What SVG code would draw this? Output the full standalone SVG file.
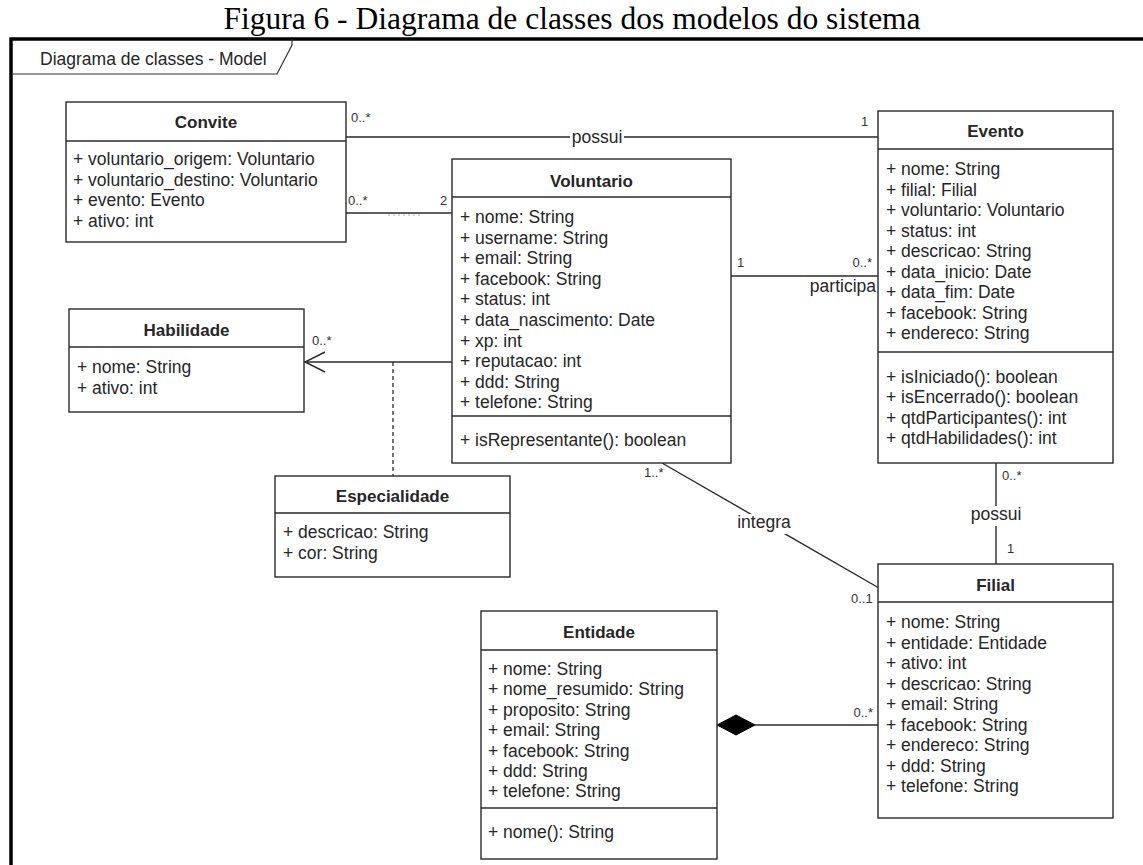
<svg xmlns="http://www.w3.org/2000/svg" width="1143" height="865" viewBox="0 0 1143 865">
  <style>
    .box { fill: #ffffff; stroke: #2a2a2a; stroke-width: 1.4; }
    .div { stroke: #2a2a2a; stroke-width: 1.4; }
    .t { font-family: "Liberation Sans", Arial, sans-serif; font-size: 17.5px; fill: #262626; }
    .h { font-family: "Liberation Sans", Arial, sans-serif; font-size: 17px; font-weight: bold; fill: #262626; text-anchor: middle; }
    .m { font-family: "Liberation Sans", Arial, sans-serif; font-size: 13px; fill: #333333; }
    .lbl { font-family: "Liberation Sans", Arial, sans-serif; font-size: 17.5px; fill: #262626; }
    .ln { stroke: #2a2a2a; stroke-width: 1.4; fill: none; }
  </style>

  <!-- figure caption -->
  <text x="572" y="29" text-anchor="middle" font-family="'Liberation Serif', 'Times New Roman', serif" font-size="31.5" fill="#000000">Figura 6 - Diagrama de classes dos modelos do sistema</text>

  <!-- UML frame -->
  <g id="frame">
    <path d="M11,880 L11,39 L1150,39" fill="none" stroke="#000000" stroke-width="3.5"/>
    <path d="M12,74 L277,74 L292,45 L292,39" fill="none" stroke="#333333" stroke-width="1.2"/>
    <text x="40" y="65" class="t" fill="#333333">Diagrama de classes - Model</text>
  </g>

  <!-- connectors -->
  <g id="connectors">
    <!-- Convite - Evento : possui -->
    <line class="ln" x1="346" y1="137" x2="878" y2="137"/>
    <rect x="570" y="128" width="54" height="20" fill="#ffffff"/>
    <text x="597" y="143" class="lbl" text-anchor="middle">possui</text>
    <text x="351" y="122" class="m">0..*</text>
    <text x="861" y="126" class="m">1</text>

    <!-- Convite - Voluntario -->
    <line class="ln" x1="346" y1="213" x2="452" y2="213"/>
    <line x1="388" y1="215" x2="421" y2="215" stroke="#b0b0b0" stroke-width="1.2" stroke-dasharray="2 3"/>
    <text x="348" y="205" class="m">0..*</text>
    <text x="440" y="205" class="m">2</text>

    <!-- Voluntario - Evento : participa -->
    <line class="ln" x1="731" y1="276" x2="878" y2="276"/>
    <text x="737" y="267" class="m">1</text>
    <text x="872" y="267" class="m" text-anchor="end">0..*</text>
    <text x="876" y="292" class="lbl" text-anchor="end">participa</text>

    <!-- Voluntario -> Habilidade (navigable) -->
    <line class="ln" x1="452" y1="362" x2="305" y2="362"/>
    <path class="ln" d="M325,352 L305,362 L325,372"/>
    <text x="312" y="345" class="m">0..*</text>

    <!-- association class Especialidade -->
    <line x1="393" y1="362" x2="393" y2="476" stroke="#2a2a2a" stroke-width="1.3" stroke-dasharray="4 3"/>

    <!-- Voluntario - Filial : integra -->
    <line class="ln" x1="662" y1="463" x2="879" y2="588"/>
    <rect x="736" y="514" width="57" height="20" fill="#ffffff"/>
    <text x="764" y="528" class="lbl" text-anchor="middle">integra</text>
    <text x="644" y="477" class="m">1..*</text>
    <text x="851" y="603" class="m">0..1</text>

    <!-- Evento - Filial : possui -->
    <line class="ln" x1="996" y1="463" x2="996" y2="564"/>
    <rect x="968" y="506" width="56" height="20" fill="#ffffff"/>
    <text x="996" y="520" class="lbl" text-anchor="middle">possui</text>
    <text x="1002" y="480" class="m">0..*</text>
    <text x="1007" y="553" class="m">1</text>

    <!-- Entidade <>- Filial (composition) -->
    <line class="ln" x1="755" y1="725" x2="878" y2="725"/>
    <path d="M717,725 L736,715 L755,725 L736,735 Z" fill="#000000" stroke="#000000" stroke-width="1"/>
    <text x="873" y="717" class="m" text-anchor="end">0..*</text>
  </g>

  <!-- Convite -->
  <g id="convite">
    <rect class="box" x="66" y="102" width="280" height="140"/>
    <line class="div" x1="66" y1="141" x2="346" y2="141"/>
    <text class="h" x="206" y="128">Convite</text>
    <text class="t" x="73" y="165">+ voluntario_origem: Voluntario</text>
    <text class="t" x="73" y="185.5">+ voluntario_destino: Voluntario</text>
    <text class="t" x="73" y="206">+ evento: Evento</text>
    <text class="t" x="73" y="226.5">+ ativo: int</text>
  </g>

  <!-- Voluntario -->
  <g id="voluntario">
    <rect class="box" x="452" y="159" width="279" height="304"/>
    <line class="div" x1="452" y1="197" x2="731" y2="197"/>
    <text class="h" x="591.5" y="187">Voluntario</text>
    <text class="t" x="460" y="223">+ nome: String</text>
    <text class="t" x="460" y="243.6">+ username: String</text>
    <text class="t" x="460" y="264.2">+ email: String</text>
    <text class="t" x="460" y="284.8">+ facebook: String</text>
    <text class="t" x="460" y="305.4">+ status: int</text>
    <text class="t" x="460" y="326">+ data_nascimento: Date</text>
    <text class="t" x="460" y="346.6">+ xp: int</text>
    <text class="t" x="460" y="367.2">+ reputacao: int</text>
    <text class="t" x="460" y="387.8">+ ddd: String</text>
    <text class="t" x="460" y="408.4">+ telefone: String</text>
    <line class="div" x1="452" y1="416" x2="731" y2="416"/>
    <text class="t" x="460" y="446">+ isRepresentante(): boolean</text>
  </g>

  <!-- Evento -->
  <g id="evento">
    <rect class="box" x="878" y="111" width="235" height="352"/>
    <line class="div" x1="878" y1="149" x2="1113" y2="149"/>
    <text class="h" x="995.5" y="137">Evento</text>
    <text class="t" x="886" y="175">+ nome: String</text>
    <text class="t" x="886" y="195.5">+ filial: Filial</text>
    <text class="t" x="886" y="216">+ voluntario: Voluntario</text>
    <text class="t" x="886" y="236.5">+ status: int</text>
    <text class="t" x="886" y="257">+ descricao: String</text>
    <text class="t" x="886" y="277.5">+ data_inicio: Date</text>
    <text class="t" x="886" y="298">+ data_fim: Date</text>
    <text class="t" x="886" y="318.5">+ facebook: String</text>
    <text class="t" x="886" y="339">+ endereco: String</text>
    <line class="div" x1="878" y1="352" x2="1113" y2="352"/>
    <text class="t" x="886" y="383">+ isIniciado(): boolean</text>
    <text class="t" x="886" y="403.4">+ isEncerrado(): boolean</text>
    <text class="t" x="886" y="423.8">+ qtdParticipantes(): int</text>
    <text class="t" x="886" y="444.2">+ qtdHabilidades(): int</text>
  </g>

  <!-- Habilidade -->
  <g id="habilidade">
    <rect class="box" x="69" y="309" width="235" height="103"/>
    <line class="div" x1="69" y1="347" x2="304" y2="347"/>
    <text class="h" x="186.5" y="336">Habilidade</text>
    <text class="t" x="77" y="373">+ nome: String</text>
    <text class="t" x="77" y="393.5">+ ativo: int</text>
  </g>

  <!-- Especialidade -->
  <g id="especialidade">
    <rect class="box" x="275" y="476" width="235" height="101"/>
    <line class="div" x1="275" y1="513" x2="510" y2="513"/>
    <text class="h" x="392.5" y="502">Especialidade</text>
    <text class="t" x="283" y="538">+ descricao: String</text>
    <text class="t" x="283" y="558.5">+ cor: String</text>
  </g>

  <!-- Filial -->
  <g id="filial">
    <rect class="box" x="878" y="564" width="235" height="254"/>
    <line class="div" x1="878" y1="602" x2="1113" y2="602"/>
    <text class="h" x="995.5" y="591">Filial</text>
    <text class="t" x="886" y="628">+ nome: String</text>
    <text class="t" x="886" y="648.5">+ entidade: Entidade</text>
    <text class="t" x="886" y="669">+ ativo: int</text>
    <text class="t" x="886" y="689.5">+ descricao: String</text>
    <text class="t" x="886" y="710">+ email: String</text>
    <text class="t" x="886" y="730.5">+ facebook: String</text>
    <text class="t" x="886" y="751">+ endereco: String</text>
    <text class="t" x="886" y="771.5">+ ddd: String</text>
    <text class="t" x="886" y="792">+ telefone: String</text>
  </g>

  <!-- Entidade -->
  <g id="entidade">
    <rect class="box" x="481" y="611" width="236" height="248"/>
    <line class="div" x1="481" y1="650" x2="717" y2="650"/>
    <text class="h" x="599" y="638">Entidade</text>
    <text class="t" x="488" y="675">+ nome: String</text>
    <text class="t" x="488" y="695.4">+ nome_resumido: String</text>
    <text class="t" x="488" y="715.8">+ proposito: String</text>
    <text class="t" x="488" y="736.2">+ email: String</text>
    <text class="t" x="488" y="756.6">+ facebook: String</text>
    <text class="t" x="488" y="777">+ ddd: String</text>
    <text class="t" x="488" y="797.4">+ telefone: String</text>
    <line class="div" x1="481" y1="808" x2="717" y2="808"/>
    <text class="t" x="488" y="838">+ nome(): String</text>
  </g>
</svg>
